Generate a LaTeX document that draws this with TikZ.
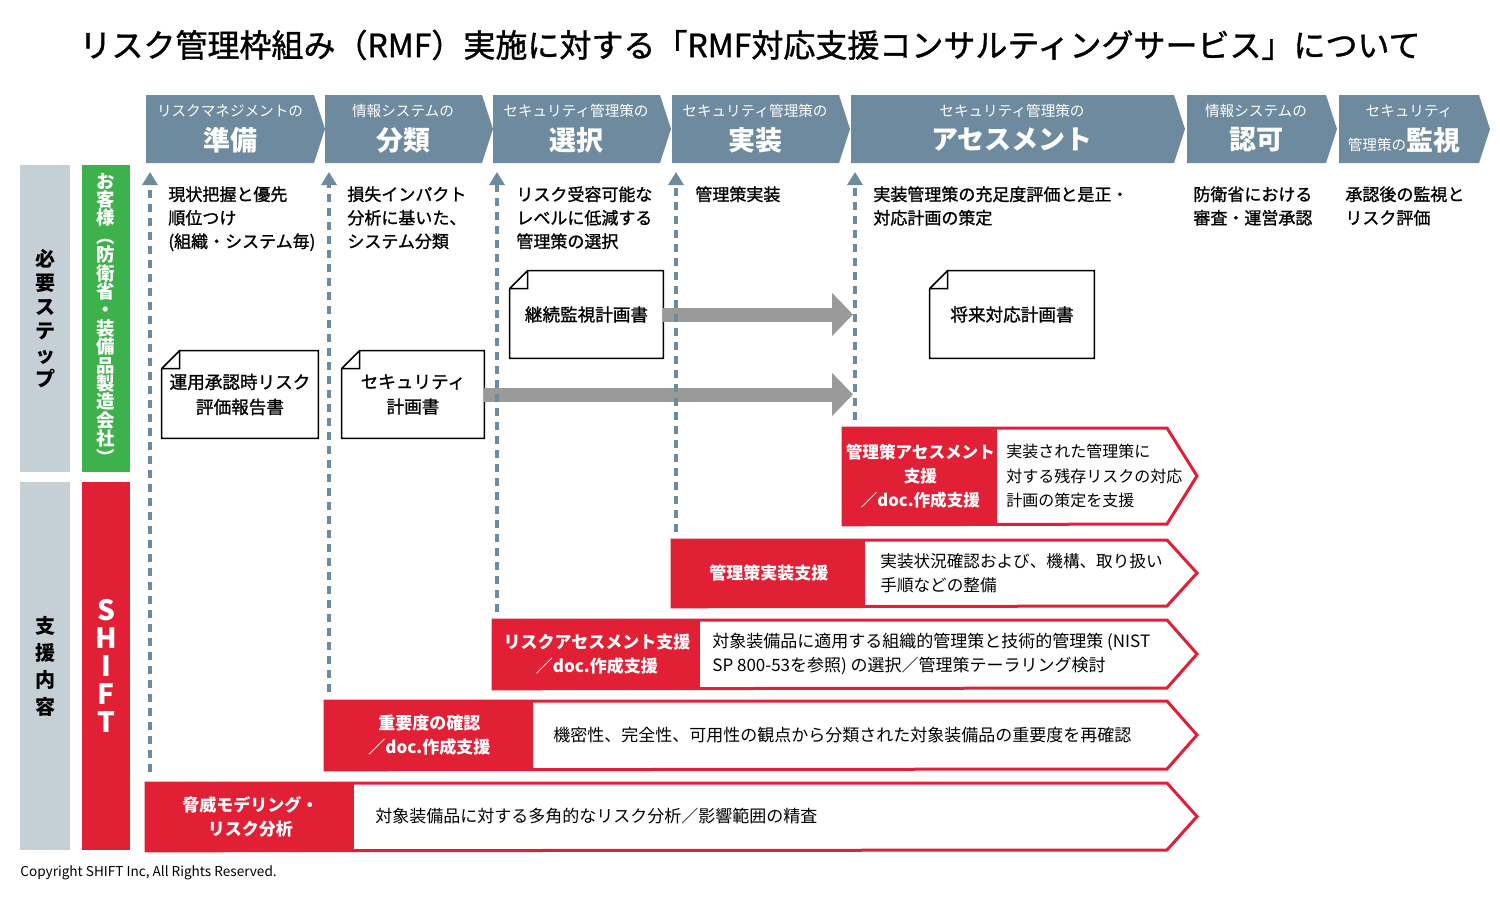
\documentclass[tikz,border=0pt]{standalone}
\usepackage{fontspec}
\setmainfont{Noto Sans CJK JP}
\newfontfamily\midfont{Noto Sans CJK JP}[FakeBold=1.2]
\usetikzlibrary{positioning}
\usetikzlibrary{calc}
\usetikzlibrary{arrows.meta}

\definecolor{headslate}{HTML}{6E8A9E}
\definecolor{colgray}{HTML}{C5CFD6}
\definecolor{custgreen}{HTML}{3DB14B}
\definecolor{shiftred}{HTML}{E11F35}
\definecolor{docarrow}{HTML}{9A9A9A}

\tikzset{
  chevron/.style={fill=headslate},
  chevsmall/.style={text=white, inner sep=0, font=\fontsize{7.3}{9}\selectfont},
  chevbig/.style={text=white, inner sep=0, font=\fontsize{13.5}{16}\selectfont\bfseries},
  stepnote/.style={anchor=north west, inner sep=0, align=left, font=\fontsize{8.5}{11.75}\selectfont\midfont},
  steparrow/.style={headslate, line width=2pt, dash pattern=on 4pt off 3pt, -{Triangle[width=7.5pt,length=6.5pt]}},
  docnote/.style={minimum height=43.5pt, inner sep=0, align=center, font=\fontsize{8.8}{12.5}\selectfont\midfont},
  docline/.style={line width=0.8pt, line join=miter},
  docflow/.style={docarrow, line width=7pt, -{Triangle[width=21pt,length=10.5pt]}},
  sidebox/.style={minimum width=25pt, inner sep=0, align=center, font=\fontsize{10}{12}\selectfont\bfseries},
  suplabel/.style={anchor=north west, fill=shiftred, text=white, inner sep=0, align=center, font=\fontsize{8.5}{12}\selectfont\bfseries},
  supdesc/.style={anchor=west, inner sep=0, align=left, font=\fontsize{8.5}{12.25}\selectfont},
  supframe/.style={shiftred, line width=1.5pt, line join=miter},
}

\begin{document}
\begin{tikzpicture}[x=0.5pt,y=-0.5pt]
\useasboundingbox (0,0) rectangle (1500,900);

% title
\node[font=\fontsize{16}{20}\selectfont\midfont](title) at (750,45){リスク管理枠組み（RMF）実施に対する「RMF対応支援コンサルティングサービス」について};

% step chevrons
\fill[chevron] (146,95) -- (314,95) -- (325,129) -- (314,163) -- (146,163) -- cycle;
\fill[chevron] (325,95) -- (482,95) -- (493,129) -- (482,163) -- (325,163) -- cycle;
\fill[chevron] (493,95) -- (660,95) -- (671,129) -- (660,163) -- (493,163) -- cycle;
\fill[chevron] (672,95) -- (839,95) -- (850,129) -- (839,163) -- (672,163) -- cycle;
\fill[chevron] (851,95) -- (1174,95) -- (1185,129) -- (1174,163) -- (851,163) -- cycle;
\fill[chevron] (1187,95) -- (1326,95) -- (1337,129) -- (1326,163) -- (1187,163) -- cycle;
\fill[chevron] (1339,95) -- (1479,95) -- (1490,129) -- (1479,163) -- (1339,163) -- cycle;

\node[chevsmall](prephd) at (230,111){リスクマネジメントの};
\node[chevbig](prep) at (230,140){準備};
\node[chevsmall](clshd) at (403,111){情報システムの};
\node[chevbig](cls) at (403,140){分類};
\node[chevsmall](selhd) at (576,111){セキュリティ管理策の};
\node[chevbig](sel) at (576,140){選択};
\node[chevsmall](implhd) at (755,111){セキュリティ管理策の};
\node[chevbig](impl) at (755,140){実装};
\node[chevsmall](asmthd) at (1012,111){セキュリティ管理策の};
\node[chevbig](asmt) at (1012,140){アセスメント};
\node[chevsmall](authhd) at (1256,111){情報システムの};
\node[chevbig](auth) at (1256,140){認可};
\node[chevsmall](monhd) at (1409,111){セキュリティ};
\node[chevbig](mon) at (1404,140){{\fontsize{7.3}{9}\selectfont\mdseries 管理策の}監視};

% left columns
\node[sidebox, fill=colgray, minimum height=153.5pt](needstep) at (45,318.5){必\\要\\ス\\テ\\ッ\\プ};
\node[sidebox, fill=custgreen, text=white, minimum width=24pt, minimum height=153.5pt, font=\fontsize{9.2}{9.2}\selectfont\bfseries](customer) at (106,318.5){お\\客\\様\\︵\\防\\衛\\省\\・\\装\\備\\品\\製\\造\\会\\社\\︶};
\node[sidebox, fill=colgray, minimum height=184pt, font=\fontsize{10}{13.5}\selectfont\bfseries](support) at (45,666){支\\援\\内\\容};
\node[sidebox, fill=shiftred, text=white, minimum width=24pt, minimum height=184pt, font=\fontsize{14}{14}\selectfont\bfseries](shift) at (106,666){S\\H\\I\\F\\T};

% step notes
\node[stepnote](prepnote) at (168,186){現状把握と優先\\順位つけ\\(組織・システム毎)};
\node[stepnote](clsnote) at (347,186){損失インパクト\\分析に基いた、\\システム分類};
\node[stepnote](selnote) at (516,186){リスク受容可能な\\レベルに低減する\\管理策の選択};
\node[stepnote](implnote) at (695,186){管理策実装};
\node[stepnote](asmtnote) at (873,186){実装管理策の充足度評価と是正・\\対応計画の策定};
\node[stepnote](authnote) at (1193,186){防衛省における\\審査・運営承認};
\node[stepnote](monnote) at (1345,186){承認後の監視と\\リスク評価};

% documents
\node[docnote, minimum width=76.5pt](monplan) at (586.5,314.5){継続監視計画書};
\node[docnote, minimum width=82pt](futplan) at (1012,314.5){将来対応計画書};
\node[docnote, minimum width=78pt](riskrep) at (240,394.5){運用承認時リスク\\評価報告書};
\node[docnote, minimum width=71pt](secplan) at (413,394.5){セキュリティ\\計画書};
\foreach \d in {monplan,futplan,riskrep,secplan}
  \draw[docline] ($(\d.north west)+(18,0)$) -- (\d.north east) -- (\d.south east) -- (\d.south west) -- ($(\d.north west)+(0,18)$) -- cycle
    ($(\d.north west)+(18,0)$) -- ($(\d.north west)+(18,18)$) -- ($(\d.north west)+(0,18)$);

\coordinate(monend) at (853,314.5);
\coordinate(secend) at (853,394.5);
\path
(monplan) edge[docflow] (monend)
(secplan) edge[docflow] (secend);

% step arrows
\coordinate(prepfoot) at (150,772);
\coordinate(preptip) at (150,172);
\coordinate(clsfoot) at (329,692);
\coordinate(clstip) at (329,172);
\coordinate(selfoot) at (497,612);
\coordinate(seltip) at (497,172);
\coordinate(implfoot) at (676,532);
\coordinate(impltip) at (676,172);
\coordinate(asmtfoot) at (855,420);
\coordinate(asmttip) at (855,172);

\path
(prepfoot) edge[steparrow] (preptip)
(clsfoot) edge[steparrow] (clstip)
(selfoot) edge[steparrow] (seltip)
(implfoot) edge[steparrow] (impltip)
(asmtfoot) edge[steparrow] (asmttip);

% SHIFT support rows
\node[suplabel, minimum width=77pt, minimum height=48pt, font=\fontsize{8.3}{12}\selectfont\bfseries](asmtlab) at (843,428){管理策アセスメント\\支援\\／doc.作成支援};
\node[supdesc, font=\fontsize{8}{12.25}\selectfont](asmtdesc) at (1006,476){実装された管理策に\\対する残存リスクの対応\\計画の策定を支援};
\draw[supframe] (asmtlab.north west) -- (1167,428) -- (1197,476) -- (1167,524) -- (asmtlab.south west) -- cycle;

\node[suplabel, minimum width=96.5pt, minimum height=33pt](impllab) at (672,540){管理策実装支援};
\node[supdesc, font=\fontsize{8.3}{12.25}\selectfont](impldesc) at (880,573){実装状況確認および、機構、取り扱い\\手順などの整備};
\draw[supframe] (impllab.north west) -- (1167,540) -- (1197,573) -- (1167,606) -- (impllab.south west) -- cycle;

\node[suplabel, minimum width=103.5pt, minimum height=34pt](sellab) at (493,620){リスクアセスメント支援\\／doc.作成支援};
\node[supdesc](seldesc) at (712,654){対象装備品に適用する組織的管理策と技術的管理策 (NIST\\SP 800-53を参照) の選択／管理策テーラリング検討};
\draw[supframe] (sellab.north west) -- (1167,620) -- (1197,654) -- (1167,688) -- (sellab.south west) -- cycle;

\node[suplabel, minimum width=104pt, minimum height=34pt](clslab) at (325,701){重要度の確認\\／doc.作成支援};
\node[supdesc](clsdesc) at (553,735){機密性、完全性、可用性の観点から分類された対象装備品の重要度を再確認};
\draw[supframe] (clslab.north west) -- (1167,701) -- (1197,735) -- (1167,769) -- (clslab.south west) -- cycle;

\node[suplabel, minimum width=104pt, minimum height=33.5pt](preplab) at (146,783){脅威モデリング・\\リスク分析};
\node[supdesc](prepdesc) at (375,816.5){対象装備品に対する多角的なリスク分析／影響範囲の精査};
\draw[supframe] (preplab.north west) -- (1167,783) -- (1197,816.5) -- (1167,850) -- (preplab.south west) -- cycle;

\node[anchor=west, inner sep=0, font=\fontsize{6.8}{9}\selectfont](copyright) at (20,873){Copyright SHIFT Inc, All Rights Reserved.};
\end{tikzpicture}
\end{document}
